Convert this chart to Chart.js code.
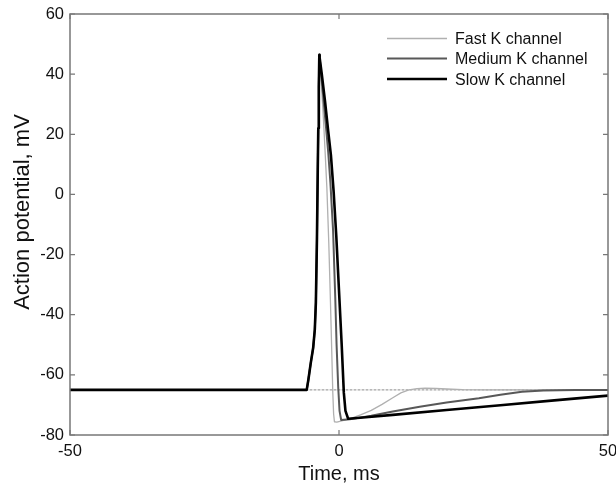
<!DOCTYPE html>
<html>
<head>
<meta charset="utf-8">
<script src="https://cdn.jsdelivr.net/npm/chart.js@4.4.1/dist/chart.umd.min.js"></script>
<style>
  html, body { margin: 0; padding: 0; background: #fff; }
  canvas { display: block; }
</style>
</head>
<body>
<canvas id="apChart" width="616" height="484"></canvas>
<script>
// action potential traces, time in ms and membrane voltage in mV
const restingPotential = -65;

// upstroke shared by all three traces
const riseTime    = [-50, -6.0, -5.7, -5.26, -4.8, -4.5, -4.3, -4.1, -3.95, -3.85, -3.75, -3.66];
const riseVoltage = [-65, -65, -61.7, -56.2, -51, -45, -36, -15, 8, 22, 36, 46.4];

const fastTime    = [-3.6, -3.4, -3.05, -2.8, -2.55, -2.25, -1.9, -1.6, -1.35, -1.15, -1.0, -0.85, -0.4, 0.5, 2, 4, 6, 8, 10, 11.5, 13, 14.5, 16, 18, 20, 23, 27, 50];
const fastVoltage = [45.6, 40, 30, 22, 13, 2, -16, -35, -52, -66, -73, -75.6, -75.7, -75.3, -74.6, -73.3, -71.8, -69.8, -67.6, -66, -65, -64.6, -64.4, -64.5, -64.7, -64.9, -65, -65];

const mediumTime    = [-3.6, -3.3, -2.8, -2.4, -2.0, -1.6, -1.1, -0.7, -0.45, -0.15, 0.1, 0.4, 2, 6, 10, 15, 20, 26, 30, 34, 38, 44, 50];
const mediumVoltage = [45.4, 40, 30, 22, 14, 4, -12, -34, -50, -64, -72, -75, -74.8, -73.6, -72.2, -70.6, -69.2, -67.8, -66.6, -65.6, -65.2, -65, -65];

const slowTime    = [-3.6, -3.2, -2.6, -2.0, -1.5, -1.0, -0.5, 0.0, 0.5, 0.9, 1.2, 1.7, 5, 10, 20, 30, 40, 50];
const slowVoltage = [45.5, 40, 31, 21, 13, 1, -14, -32, -50, -66, -72, -74.6, -74.1, -73.3, -71.7, -70.1, -68.5, -66.9];

const seriesLabels = ['Fast K channel', 'Medium K channel', 'Slow K channel'];
const xTicks = [-50, 0, 50];
const yTicks = [-80, -60, -40, -20, 0, 20, 40, 60];
const xTitle = 'Time, ms';
const yTitle = 'Action potential, mV';

function toPoints(t, v) {
    const all = riseTime.concat(t);
    const vals = riseVoltage.concat(v);
    return all.map((x, i) => ({ x: x, y: vals[i] }));
}

const fontFamily = '"Liberation Sans", Arial, sans-serif';

// box around the axes with short inward ticks on every side
const framePlugin = {
    id: 'frame',
    afterDatasetsDraw(chart) {
        const { ctx, chartArea: a, scales } = chart;
        ctx.save();
        ctx.strokeStyle = '#777';
        ctx.lineWidth = 1.5;
        ctx.strokeRect(a.left, a.top, a.right - a.left, a.bottom - a.top);
        ctx.lineWidth = 1.2;
        ctx.beginPath();
        scales.x.ticks.forEach(t => {
            const px = scales.x.getPixelForValue(t.value);
            ctx.moveTo(px, a.bottom); ctx.lineTo(px, a.bottom - 5);
            ctx.moveTo(px, a.top); ctx.lineTo(px, a.top + 5);
        });
        scales.y.ticks.forEach(t => {
            const py = scales.y.getPixelForValue(t.value);
            ctx.moveTo(a.left, py); ctx.lineTo(a.left + 5, py);
            ctx.moveTo(a.right, py); ctx.lineTo(a.right - 5, py);
        });
        ctx.stroke();

        // vertical axis title
        ctx.fillStyle = '#111';
        ctx.font = '22px ' + fontFamily;
        ctx.textAlign = 'center';
        ctx.textBaseline = 'middle';
        ctx.translate(22.5, 212);
        ctx.rotate(-Math.PI / 2);
        ctx.fillText(yTitle, 0, 0);
        ctx.restore();
    }
};

// legend sitting inside the plot, top right
const insideLegend = {
    id: 'insideLegend',
    afterDraw(chart) {
        const ctx = chart.ctx;
        const x0 = 387, x1 = 447, textX = 455;
        const rows = [38.5, 58.5, 79];
        ctx.save();
        ctx.font = '16px ' + fontFamily;
        ctx.fillStyle = '#111';
        ctx.textBaseline = 'alphabetic';
        chart.data.datasets.filter(d => d.label).forEach((d, i) => {
            ctx.strokeStyle = d.borderColor;
            ctx.lineWidth = d.borderWidth;
            ctx.beginPath();
            ctx.moveTo(x0, rows[i]);
            ctx.lineTo(x1, rows[i]);
            ctx.stroke();
            ctx.fillText(d.label, textX, rows[i] + 5.7);
        });
        ctx.restore();
    }
};

document.addEventListener('DOMContentLoaded', function () {
    const ctx = document.getElementById('apChart').getContext('2d');

    const data = {
        datasets: [
            {
                label: seriesLabels[0],
                data: toPoints(fastTime, fastVoltage),
                borderColor: '#b0b0b0',
                borderWidth: 1.3,
                order: 3,
            },
            {
                label: seriesLabels[1],
                data: toPoints(mediumTime, mediumVoltage),
                borderColor: '#585858',
                borderWidth: 2,
                order: 2,
            },
            {
                label: seriesLabels[2],
                data: toPoints(slowTime, slowVoltage),
                borderColor: '#000',
                borderWidth: 2.6,
                order: 1,
            },
            {
                label: '',
                data: [{ x: -50, y: restingPotential }, { x: 50, y: restingPotential }],
                borderColor: '#8a8a8a',
                borderWidth: 1,
                borderDash: [2, 2],
                order: 4,
            },
        ],
    };

    const tickFont = { family: fontFamily, size: 16.5 };

    const options = {
        responsive: false,
        animation: false,
        devicePixelRatio: 1,
        layout: { padding: { top: 14, right: 8, left: 0, bottom: 0 } },
        elements: {
            point: { radius: 0 },
            line: { fill: false, tension: 0, borderJoinStyle: 'round', borderCapStyle: 'round' },
        },
        plugins: {
            legend: { display: false },
            tooltip: { enabled: false },
        },
        scales: {
            x: {
                type: 'linear',
                position: 'bottom',
                min: -50,
                max: 50,
                afterBuildTicks: s => { s.ticks = xTicks.map(v => ({ value: v })); },
                afterFit: s => { s.height = 49; s.paddingLeft = 0; s.paddingRight = 0; },
                grid: { display: false, drawTicks: false },
                border: { display: false },
                ticks: { padding: 7, font: tickFont, color: '#111', maxRotation: 0, autoSkip: false },
                title: {
                    display: true, text: xTitle, color: '#111', padding: 0,
                    font: { family: fontFamily, size: 20, lineHeight: 1 },
                },
            },
            y: {
                type: 'linear',
                position: 'left',
                min: -80,
                max: 60,
                afterBuildTicks: s => { s.ticks = yTicks.map(v => ({ value: v })); },
                afterFit: s => { s.width = 70; s.paddingTop = 0; s.paddingBottom = 0; },
                grid: { display: false, drawTicks: false },
                border: { display: false },
                ticks: { padding: 6, font: tickFont, color: '#111', autoSkip: false },
            },
        },
    };

    new Chart(ctx, {
        type: 'line',
        data: data,
        options: options,
        plugins: [framePlugin, insideLegend],
    });
});
</script>
</body>
</html>
